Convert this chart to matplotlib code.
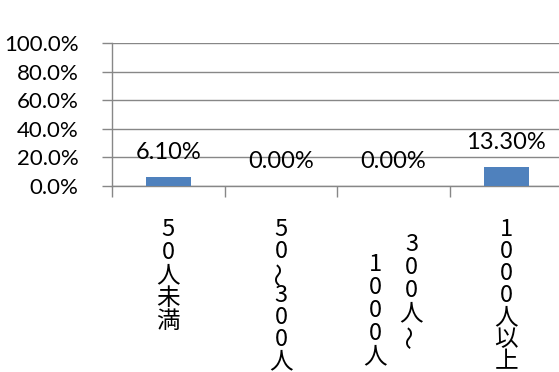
import matplotlib
matplotlib.use('Agg')
import matplotlib.pyplot as plt
from matplotlib.ticker import FuncFormatter

plt.rcParams['font.family'] = ['Lato', 'Noto Sans CJK JP', 'DejaVu Sans']

categories = ['50人未満', '50～300人', '300人～1000人', '1000人以上']
values = [6.1, 0.0, 0.0, 13.3]
value_labels = ['6.10%', '0.00%', '0.00%', '13.30%']
yticks = [0, 20, 40, 60, 80, 100]

bar_color = '#4F81BD'
grid_color = '#878787'

fig = plt.figure(figsize=(5.59, 3.72), dpi=100)
# 轴区域：左112px，底186px（从上），顶43px
ax = fig.add_axes([112 / 559, (372 - 186) / 372, 447 / 559, 143 / 372])

x = list(range(len(categories)))
ax.bar(x, values, width=0.4, color=bar_color, zorder=3)

ax.set_ylim(0, 100)
ax.set_xlim(-0.5, -0.5 + 447 / 112.6)
ax.set_yticks(yticks)
ax.yaxis.set_major_formatter(FuncFormatter(lambda v, p: '%.1f%%' % v))
ax.set_xticks([i - 0.5 for i in range(4)])
ax.set_xticklabels([])
ax.tick_params(axis='y', length=7, width=1, color=grid_color, labelsize=16, pad=17)
ax.tick_params(axis='x', length=8, width=1, color=grid_color)
ax.grid(axis='y', color=grid_color, linewidth=1, zorder=0)
for s in ['top', 'right']:
    ax.spines[s].set_visible(False)
for s in ['left', 'bottom']:
    ax.spines[s].set_color(grid_color)
    ax.spines[s].set_linewidth(1)

# 数据标签
for i, (v, lab) in enumerate(zip(values, value_labels)):
    ax.annotate(lab, xy=(i, v), xytext=(0, 14), textcoords='offset pixels',
                ha='center', va='bottom', fontsize=17, zorder=4)


# 纵书き标签：一字一行，～ 旋转90度
def vertical_label(xi, dx, top, text, step=23):
    for k, ch in enumerate(text):
        rot = 90 if ch == '～' else 0
        ax.annotate(ch, xy=(xi, 0), xycoords=('data', 'axes fraction'),
                    xytext=(dx, -(top - 186) - k * step - 19), textcoords='offset pixels',
                    ha='center', va='baseline', rotation=rot,
                    fontsize=17, family=['Noto Sans CJK JP'], annotation_clip=False)


vertical_label(0, 0, 217, categories[0])
vertical_label(1, 0, 217, categories[1], step=22)
vertical_label(2, 18, 232, '300人～')
vertical_label(2, -18, 252, '1000人')
vertical_label(3, 0, 217, categories[3], step=22)

fig.savefig('out.png', dpi=100)
